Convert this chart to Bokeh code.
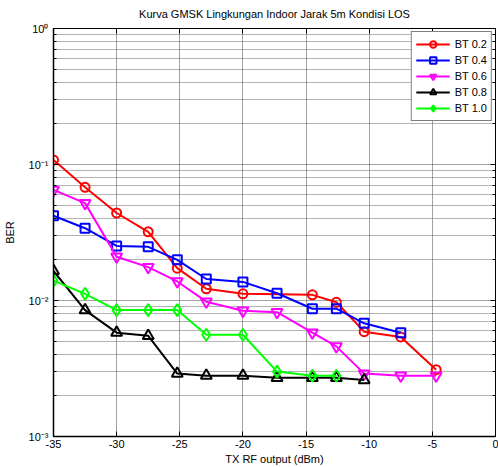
from bokeh.plotting import figure
from bokeh.models import (Range1d, FixedTicker, CustomJSTickFormatter, LinearAxis,
                          LogAxis, Legend, LegendItem)
from bokeh.embed import file_html
from bokeh.resources import INLINE

title = "Kurva GMSK Lingkungan Indoor Jarak 5m Kondisi LOS"
x_label = "TX RF output (dBm)"
y_label = "BER"

x_ticks = [-35, -30, -25, -20, -15, -10, -5, 0]
y_ticks = [1e-3, 1e-2, 1e-1, 1]

series_names = ["BT 0.2", "BT 0.4", "BT 0.6", "BT 0.8", "BT 1.0"]

bt02_x = [-35, -32.5, -30, -27.5, -25.2, -22.9, -20, -14.5, -12.6, -10.4, -7.5, -4.7]
bt02_y = [0.108, 0.068, 0.044, 0.032, 0.0173, 0.0122, 0.0112, 0.011, 0.0097, 0.0059, 0.0054, 0.0031]

bt04_x = [-35, -32.5, -30, -27.5, -25.2, -22.9, -20, -17.3, -14.5, -12.6, -10.4, -7.5]
bt04_y = [0.042, 0.034, 0.0252, 0.0248, 0.0199, 0.0144, 0.0137, 0.0113, 0.0087, 0.0087, 0.0068, 0.0058]

bt06_x = [-35, -32.5, -30, -27.5, -25.2, -22.9, -20, -17.3, -14.5, -12.6, -10.4, -7.5, -4.7]
bt06_y = [0.065, 0.052, 0.021, 0.0176, 0.0138, 0.0098, 0.0084, 0.0082, 0.0058, 0.0046, 0.0029, 0.0028, 0.0028]

bt08_x = [-35, -32.5, -30, -27.5, -25.2, -22.9, -20, -17.3, -14.5, -12.6, -10.4]
bt08_y = [0.0165, 0.0085, 0.0058, 0.0055, 0.0029, 0.0028, 0.0028, 0.0027, 0.0027, 0.0027, 0.0026]

bt10_x = [-35, -32.5, -30, -27.5, -25.2, -22.9, -20, -17.3, -14.5, -12.6]
bt10_y = [0.014, 0.0112, 0.0085, 0.0085, 0.0085, 0.0056, 0.0056, 0.0030, 0.0028, 0.0028]

FONT = "Liberation Sans"

p = figure(width=498, height=467, output_backend="svg", toolbar_location=None,
           y_axis_type="log", x_range=Range1d(-35, 0), y_range=Range1d(1e-3, 1),
           min_border_left=49, min_border_right=0, min_border_top=12, min_border_bottom=30)
p.title.text = title
p.title.align = "center"
p.title.text_font = FONT
p.title.text_font_size = "11px"
p.title.text_font_style = "normal"
p.title.text_color = "black"
p.title.offset = 0
p.outline_line_color = "black"
p.outline_line_width = 1

minor_y = [m * 10.0 ** e for e in range(-3, 0) for m in range(2, 10)]
xt = FixedTicker(ticks=x_ticks, minor_ticks=[])
yt = FixedTicker(ticks=y_ticks, minor_ticks=minor_y)

sup_js = """
const sup = {'0':'\u2070','1':'\u00b9','2':'\u00b2','3':'\u00b3','4':'\u2074','5':'\u2075','6':'\u2076','7':'\u2077','8':'\u2078','9':'\u2079','-':'\u207b'};
const e = Math.round(Math.log10(tick)).toString();
let s = '';
for (const c of e) s += sup[c];
return '10' + s;
"""

xa = p.xaxis[0]
xa.ticker = xt
xa.formatter = CustomJSTickFormatter(code="return tick.toString();")
ya = p.yaxis[0]
ya.ticker = yt
ya.formatter = CustomJSTickFormatter(code=sup_js)
for ax in (xa, ya):
    ax.major_tick_in = 5
    ax.major_tick_out = 0
    ax.minor_tick_in = 3
    ax.minor_tick_out = 0
    ax.major_label_text_font = FONT
    ax.major_label_text_font_size = "11px"
    ax.major_label_text_color = "black"
    ax.axis_label_text_font = FONT
    ax.axis_label_text_font_size = "11px"
    ax.axis_label_text_font_style = "normal"
    ax.axis_label_text_color = "black"
    ax.axis_line_color = "black"
    ax.axis_line_width = 1.5
    ax.major_tick_line_color = "black"
    ax.minor_tick_line_color = "black"
xa.axis_label = x_label
ya.axis_label = y_label
xa.major_label_standoff = 3
xa.axis_label_standoff = 2
ya.major_label_standoff = 5
ya.axis_label_standoff = 10

blank = CustomJSTickFormatter(code="return ' ';")
top = LinearAxis(ticker=xt, formatter=blank, major_label_text_font_size="1px",
                 major_label_standoff=0, major_tick_in=5, major_tick_out=0,
                 axis_line_color="black", major_tick_line_color="black")
right = LogAxis(ticker=yt, formatter=blank, major_label_text_font_size="1px",
                major_label_standoff=0, major_tick_in=5, major_tick_out=0,
                minor_tick_in=3, minor_tick_out=0, axis_line_color="black",
                major_tick_line_color="black", minor_tick_line_color="black")
p.add_layout(top, "above")
p.add_layout(right, "right")

p.xgrid.ticker = xt
p.ygrid.ticker = yt
for g in (p.xgrid[0], p.ygrid[0]):
    g.grid_line_color = "#444444"
    g.grid_line_dash = "1 1"
    g.grid_line_width = 1
p.ygrid[0].minor_grid_line_color = "#666666"
p.ygrid[0].minor_grid_line_dash = "1 1"

specs = [
    (bt02_x, bt02_y, "#ff0000", "circle", 9),
    (bt04_x, bt04_y, "#0000ff", "square", 9),
    (bt06_x, bt06_y, "#ff00ff", "inverted_triangle", 11),
    (bt08_x, bt08_y, "#000000", "triangle", 11),
    (bt10_x, bt10_y, "#00ff00", "diamond", 12),
]
items = []
for (xs, ys, col, mk, sz), name in zip(specs, series_names):
    ln = p.line(xs, ys, line_color=col, line_width=2)
    sc = p.scatter(xs, ys, marker=mk, size=sz, line_color=col, line_width=2,
                   fill_color=None)
    items.append(LegendItem(label=name, renderers=[ln, sc]))

leg = Legend(items=items, location="top_right")
leg.margin = 3
leg.padding = 4
leg.spacing = 0
leg.label_height = 16
leg.glyph_height = 16
leg.glyph_width = 34
leg.label_standoff = 5
leg.label_text_font = FONT
leg.label_text_font_size = "11px"
leg.label_text_color = "black"
leg.border_line_color = "black"
leg.border_line_width = 1
leg.background_fill_color = "white"
leg.background_fill_alpha = 1
p.add_layout(leg, "center")

open("out.html", "w").write(file_html(p, INLINE))
